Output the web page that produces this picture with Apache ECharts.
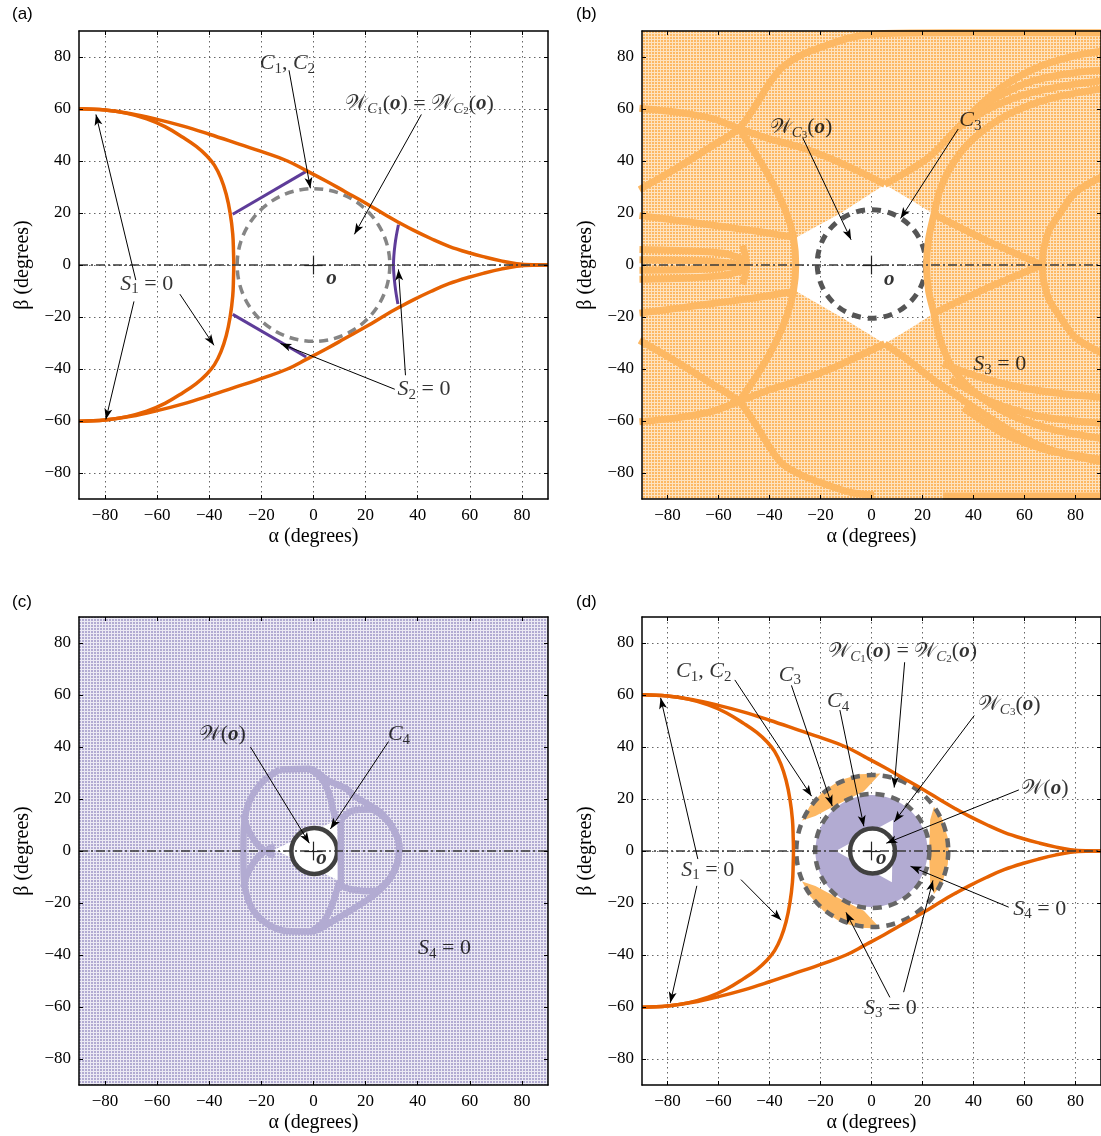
<!DOCTYPE html>
<html><head><meta charset="utf-8">
<script src="https://cdn.jsdelivr.net/npm/echarts@6/dist/echarts.min.js"></script>
<style>html,body{margin:0;padding:0;background:#fff}#c{width:1101px;height:1136px}</style>
</head><body><div id="c"></div>
<script>
// ---------------- DATA ----------------
const tickValues = [-80,-60,-40,-20,0,20,40,60,80];
const zeroLine = [[-90,0],[90,0]];
// S1 = 0 boundary (panels a, d)
const s1Upper = [[-90,60.1],[-80,59.6],[-70,58.2],[-60,56.0],[-50,53.4],[-40,50.3],[-30,47.0],[-19,43.3],[-10,40.0],[-2.6,36.2],[5,32.2],[12,28.3],[20.4,23.6],[28,19.0],[33,16.2],[38.3,13.4],[45,10.2],[52,7.2],[60,4.6],[66,3.0],[72,1.6],[78,0.5],[84,0.05],[90,0]];
const s1Lower = [[-90,-60.1],[-80,-59.6],[-70,-58.2],[-60,-56.0],[-50,-53.4],[-40,-50.3],[-30,-47.0],[-19,-43.3],[-10,-40.0],[-2.6,-36.2],[5,-32.2],[12,-28.3],[20.4,-23.6],[28,-19.0],[33,-16.2],[38.3,-13.4],[45,-10.2],[52,-7.2],[60,-4.6],[66,-3.0],[72,-1.6],[78,-0.5],[84,-0.05],[90,0]];
const s1Left = [[-90,60.1],[-80,59.6],[-72,58.4],[-64,56.2],[-57,53.2],[-50,49],[-45,45.6],[-41,42],[-38,38.3],[-35.5,33.3],[-33.5,27.2],[-32,20],[-31,12],[-30.7,5],[-30.6,0],[-30.7,-5],[-31,-12],[-32,-20],[-33.5,-27.2],[-35.5,-33.3],[-38,-38.3],[-41,-42],[-45,-45.6],[-50,-49],[-57,-53.2],[-64,-56.2],[-72,-58.4],[-80,-59.6],[-90,-60.1]];
// S2 = 0 (panel a)
const s2Upper = [[-31,19.5],[-2.8,36]];
const s2Lower = [[-31,-19],[-2.8,-35.4]];
const s2Right = [[32.6,15.5],[31.3,8],[30.7,0],[31.3,-8],[32.4,-15]];
// circles: [centre alpha, centre beta, radius]
const circleA = [[0,0,29.3]];
const circleB = [[0,0.4,21.3]];
const circlesD = [[0.3,0,29.8],[0.3,0,22.4]];
const ringC = [[0.3,0,8.8]];
const ringD = [[0.4,0,8.8]];
const diskD = [[0,0,22]];
// panel b: whole-plane sample set with white hole
const planeRect = [[-90,-90],[90,-90],[90,90],[-90,90]];
const hexHoleB = [[-29.7,10.5],[-12,20],[5.2,31],[15,25.3],[24.5,19.5],[22.4,10],[21.6,0],[22.4,-10],[24.5,-18.6],[15,-24.5],[5.2,-30.3],[-12,-20],[-29.7,-10]];
const bandsB = [
 [[-91,60.3],[-75,58.6],[-62,56.2],[-52,52.5],[-40,48.5],[-27,45],[-15,40.5],[-5,36],[5.2,31]],
 [[5.2,31],[15,36.5],[23.3,42.1],[33.6,52.5],[42,61],[52,69],[65,76],[80,80.5],[92,82.5]],
 [[-91,29],[-76,37.5],[-63,45.5],[-52,52.5],[-45,62],[-40,70],[-35,76],[-27,81],[-19,84],[-8,87.5],[5,89],[30,89.3],[60,89.3],[92,89.3]],
 [[-52,52.5],[-44,40.5],[-37.4,29],[-33,19],[-30.6,10.5],[-29.7,0],[-30.6,-10],[-33,-19],[-37.4,-29.4],[-44,-41],[-52,-52.5]],
 [[-91,-60.3],[-75,-58.6],[-62,-56.2],[-52,-52.5],[-40,-48],[-27,-44],[-15,-39.5],[-5,-35],[5.2,-30.3]],
 [[5.2,-30.3],[15,-37],[23.3,-43.5],[33,-50],[42,-56],[55,-64],[70,-71],[92,-76]],
 [[-91,-29],[-76,-37.5],[-63,-45.5],[-52,-52.5],[-45,-62],[-40,-70],[-35,-76.5],[-27,-81],[-19,-84],[-8,-87.5],[1,-88.5]],
 [[-29.7,10.5],[-45,13],[-60,15],[-75,17],[-91,19]],
 [[-29.7,-10],[-45,-12.5],[-60,-14.5],[-75,-16.5],[-91,-18.5]],
 [[-91,6],[-72,5.5],[-58,4.5],[-50,2]],
 [[-91,2],[-65,1.5],[-50,0]],
 [[-91,-2],[-65,-1.5],[-50,0]],
 [[-91,-5.5],[-72,-5],[-58,-4],[-50,-2]],
 [[-50.5,7.5],[-49,0],[-50.5,-7.5]],
 [[24.5,19.5],[45,9.5],[67,0]],
 [[24.5,-18.6],[45,-9],[67,0]],
 [[92,34.7],[80,28],[74,20],[69.8,13.6],[67.5,6],[67,0],[67.5,-6],[69.8,-13.6],[74,-20],[80,-28],[92,-34.7]],
 [[92,68],[70,64],[53,57.6],[40,48.6],[32.3,39.6],[27,29.2],[24.5,19.5],[22.4,10],[21.6,0],[22.4,-10],[24.5,-18.6],[27,-29],[32,-40],[40,-48.5],[53,-57],[70,-63],[92,-67]],
 [[33,52],[46,60],[60,65.5],[76,69],[92,71]],
 [[38,57],[50,65],[64,71],[80,74],[92,75]],
 [[28,-38],[42,-43],[58,-47],[75,-49.5],[92,-51]],
 [[31,-44],[48,-53],[65,-58],[80,-60],[92,-61]],
 [[36,-55],[52,-65],[68,-71],[82,-73.5],[92,-75]],
 [[28,-88.8],[60,-88.8],[92,-88.8]]
];
// panel c
const triHoleC = [[-15,0.5],[9,12],[10,-11.5]];
const bandsC = [
 [[-13,31.3],[-1.6,31.6],[5.8,27],[12.6,24],[15.3,21.4],[22,17.3],[26.1,14.6],[30.2,9.1],[32.9,2.3],[32.2,-4.5],[28.8,-11.3],[23.4,-16.8],[15.3,-22.2],[8.5,-26.3],[-0.9,-31],[-10.4,-30.8],[-17.2,-28.4],[-22.6,-23.6],[-25.3,-18.1],[-26.7,-11.3],[-26.9,0],[-26.7,9.1],[-25.3,17.3],[-22.6,22.8],[-18.5,27.6],[-13,31.3]],
 [[-1.6,31.6],[3,28],[6,22],[7.5,16],[8.5,12]],
 [[-27,14],[-25,8],[-21.5,2.5],[-18.5,0],[-15,-2]],
 [[-0.9,-31],[4,-27],[7,-21],[9,-15],[10,-11.5]],
 [[-27,-14],[-25,-8],[-21.5,-2.5],[-18.5,0],[-15,2]],
 [[10.5,12],[15,15.5],[22,16],[27,13],[31,8],[33,1],[32,-5],[29,-11],[23,-15.5],[16,-15],[10.5,-12.5],[10.5,12]]
];
// panel d
const patchesD = [
 [[-27.2,11.7],[-24.2,17.2],[-18.9,23],[-12.3,27.2],[-4.8,29.5],[3.5,29.8],[-3,23],[-10,19.5],[-16.5,16.3],[-22,13.5]],
 [[-27.2,-11.7],[-24.2,-17.2],[-18.9,-23],[-12.3,-27.2],[-4.8,-29.5],[3.5,-29.8],[-3,-23],[-10,-19.5],[-16.5,-16.3],[-22,-13.5]],
 [[24.5,17],[27.6,12.7],[29.9,5.2],[30.3,0],[29.9,-5.2],[27.6,-12.7],[24.5,-16.5],[23,-12],[22.6,0],[23,12]]
];
const triD = [[-14,0],[8.5,12],[8,-12]];

// ---------------- ANNOTATIONS ----------------
const labelsA = [{f:'C12',at:[-10,77.6]},{f:'Weq',at:[40.7,62]},{f:'S1',at:[-64,-7.2]},{f:'S2',at:[42.4,-47.8]},{f:'o',at:[6.9,-5.1]}];
const arrowsA = [[[-9.4,74.9],[-1.2,29.5]],[[41.4,57.9],[15.7,11.8]],[[-68.2,-5.8],[-83.5,57.9]],[[-68.9,-14],[-79.7,-59.4]],[[-51.3,-11.2],[-38.2,-30.9]],[[31.2,-47.8],[-12.7,-30.2]],[[35.3,-42.4],[32.6,-1.7]]];
const labelsB = [{f:'Wc3',at:[-27.6,52.9]},{f:'C3',at:[38.8,55.7]},{f:'S3',at:[50.3,-38.3]},{f:'o',at:[7,-5.6]}];
const arrowsB = [[[-26.9,48.8],[-8,9.7]],[[34,52.3],[11.4,17.9]]];
const labelsC = [{f:'W',at:[-35,44.9]},{f:'C4',at:[32.8,44.9]},{f:'S4',at:[50.3,-37.5]},{f:'o',at:[3.1,-3.1]}];
const arrowsC = [[[-24.2,40],[-1.6,3]],[[28.8,42.1],[6.5,8.5]]];
const labelsD = [{f:'C12',at:[-65.8,69.2]},{f:'C3',at:[-32,67.8]},{f:'C4',at:[-13.1,57.6]},{f:'Weq',at:[12.2,76.7]},{f:'Wc3',at:[54,56.2]},{f:'W',at:[68,24.1]},{f:'S4',at:[66,-22.2]},{f:'S1',at:[-64.2,-7.2]},{f:'S3',at:[7.4,-60.4]},{f:'o',at:[3.8,-3.1]}];
const arrowsD = [[[-53.6,65.8],[-23.5,21.1]],[[-31.4,63.7],[-15.4,17.3]],[[-12.4,54.2],[-3,9.5]],[[13,72.6],[8.9,24.4]],[[40.3,52.1],[8.9,11.2]],[[57.8,23.5],[5.8,3]],[[53.8,-21.6],[15.3,-5.9]],[[-68.1,-3.1],[-82.7,58.9]],[[-68.5,-13.4],[-78.9,-58.4]],[[-51.2,-11],[-35.4,-26.6]],[[7.2,-56.3],[-10,-23.6]],[[12.6,-54.3],[24.1,-11.3]]];

// ---------------- STYLE / BUILD ----------------
const ORANGE='#e66101', LORANGE='#fdb863', PURPLE='#5e3c99', LPURPLE='#b2abd2';
const SERIF='Liberation Serif';
const SCRIPT='DejaVu Serif';
const W='\u{1D4B2}';
const F = {
 C12:'{i|C}{s|1}{n|, }{i|C}{s|2}',
 Weq:'{w|'+W+'}{si|C}{ss|1}{n|(}{b|o}{n|) = }{w|'+W+'}{si|C}{ss|2}{n|(}{b|o}{n|)}',
 Wc3:'{w|'+W+'}{si|C}{ss|3}{n|(}{b|o}{n|)}',
 W:'{w|'+W+'}{n|(}{b|o}{n|)}',
 S1:'{i|S}{s|1}{n| = 0}',S2:'{i|S}{s|2}{n| = 0}',S3:'{i|S}{s|3}{n| = 0}',S4:'{i|S}{s|4}{n| = 0}',
 C3:'{i|C}{s|3}',C4:'{i|C}{s|4}',
 o:'{b|o}'
};
const RICH = {
 i:{fontFamily:SERIF,fontStyle:'italic',fontSize:22,lineHeight:26,color:'#000'},
 n:{fontFamily:SERIF,fontSize:22,lineHeight:26,color:'#000'},
 w:{fontFamily:SCRIPT,fontSize:21,lineHeight:26,color:'#000'},
 b:{fontFamily:SERIF,fontStyle:'italic',fontWeight:'bold',fontSize:21,lineHeight:26,color:'#000'},
 s:{fontFamily:SERIF,fontSize:15,lineHeight:14,verticalAlign:'bottom',color:'#000'},
 si:{fontFamily:SERIF,fontStyle:'italic',fontSize:15,lineHeight:16,verticalAlign:'bottom',color:'#000'},
 ss:{fontFamily:SERIF,fontSize:11,lineHeight:9,verticalAlign:'bottom',color:'#000'}
};
function tile(color,a){const c=document.createElement('canvas');c.width=3;c.height=3;const x=c.getContext('2d');x.fillStyle=color;x.fillRect(0,0,3,3);x.fillStyle='rgba(255,255,255,'+a+')';x.fillRect(0,0,3,1);x.fillRect(0,1,1,2);return c;}
const patB = {image:tile(LORANGE,0.6),repeat:'repeat'};
const patC = {image:tile(LPURPLE,0.75),repeat:'repeat'};
function withHole(outer,hole){return outer.concat([outer[0]],hole,[hole[0]],[outer[0]]);}

const fmt = v => (v<0?'\u2212':'')+Math.abs(v);
const GR = [[79,31],[642,31],[79,617],[642,617]];
const grid = GR.map(g=>({left:g[0],top:g[1],width:469,height:468,show:false}));
const xAxis=[], yAxis=[];
const axLine = {show:true,onZero:false,lineStyle:{color:'#000',width:1.5}};
const axTick = {show:true,inside:true,length:4,customValues:tickValues,lineStyle:{color:'#000',width:1}};
const tickLabel = {customValues:tickValues,formatter:fmt,fontFamily:SERIF,fontSize:17,color:'#000',margin:8,textStyle:{fontFamily:SERIF}};
const nameStyle = {fontFamily:SERIF,fontSize:20,color:'#000'};
for(let i=0;i<4;i++){
 xAxis.push({type:'value',gridIndex:i,min:-90,max:90,splitNumber:9,position:'bottom',z:10,axisLine:axLine,axisTick:axTick,
  axisLabel:tickLabel,splitLine:{show:false},
  name:'\u03b1 (degrees)',nameLocation:'middle',nameGap:28,nameTextStyle:nameStyle});
 yAxis.push({type:'value',gridIndex:i,min:-90,max:90,splitNumber:9,position:'left',z:10,axisLine:axLine,axisTick:axTick,
  axisLabel:tickLabel,splitLine:{show:false},
  name:'\u03b2 (degrees)',nameLocation:'middle',nameGap:46,nameTextStyle:nameStyle});
}
for(let i=0;i<4;i++){
 xAxis.push({type:'value',gridIndex:i,min:-90,max:90,splitNumber:9,position:'top',z:10,axisLine:axLine,axisTick:axTick,axisLabel:{show:false},splitLine:{show:false}});
 yAxis.push({type:'value',gridIndex:i,min:-90,max:90,splitNumber:9,position:'right',z:10,axisLine:axLine,axisTick:axTick,axisLabel:{show:false},splitLine:{show:false}});
}
const split = {show:true,lineStyle:{type:[1.5,3.5],color:'#666',width:1}};
for(let i=0;i<4;i++){
 xAxis.push({type:'value',gridIndex:i,min:-90,max:90,splitNumber:9,z:0,axisLine:{show:false},axisTick:{show:false,customValues:tickValues},axisLabel:{show:false,customValues:tickValues},splitLine:split});
 yAxis.push({type:'value',gridIndex:i,min:-90,max:90,splitNumber:9,z:0,axisLine:{show:false},axisTick:{show:false,customValues:tickValues},axisLabel:{show:false,customValues:tickValues},splitLine:split});
}

const series=[];
function curve(g,data,color,width,smooth,type){series.push({type:'line',xAxisIndex:g,yAxisIndex:g,data,symbol:'none',smooth:smooth||false,silent:true,animation:false,clip:true,lineStyle:{color,width,type:type||'solid'}});}
function poly(g,pts,fill){series.push({type:'custom',xAxisIndex:g,yAxisIndex:g,data:pts,silent:true,animation:false,clip:true,
 renderItem:(p,api)=>{if(p.dataIndex!==0)return null;return {type:'polygon',shape:{points:pts.map(q=>api.coord(q))},style:{fill}};}});}
function circles(g,data,style){series.push({type:'custom',xAxisIndex:g,yAxisIndex:g,data,silent:true,animation:false,
 renderItem:(p,api)=>{const c=api.coord([api.value(0),api.value(1)]);const r=api.size([api.value(2),0])[0];return {type:'circle',shape:{cx:c[0],cy:c[1],r},style:Object.assign({},style)};}});}
function origin(g){
 curve(g,zeroLine,'#3a3a3a',1.4,false,[9,3,2,3]);
 series.push({type:'scatter',xAxisIndex:g,yAxisIndex:g,data:[],silent:true,animation:false,markLine:{silent:true,animation:false,symbol:['none','none'],label:{show:false},lineStyle:{color:'#222',width:1.2,type:'solid'},
  data:[[{coord:[-3.5,0]},{coord:[3.5,0]}],[{coord:[0,-3.6]},{coord:[0,3.6]}]]}});
}
function annotate(g,labels,arrows){
 series.push({type:'scatter',xAxisIndex:g,yAxisIndex:g,data:[],silent:true,animation:false,z:19,markLine:{silent:true,animation:false,symbol:['none','arrow'],symbolSize:[6,11],label:{show:false},lineStyle:{color:'#000',width:1,type:'solid'},
  data:arrows.map(a=>[{coord:a[0]},{coord:a[1]}])}});
 series.push({type:'scatter',xAxisIndex:g,yAxisIndex:g,symbolSize:1,itemStyle:{color:'rgba(0,0,0,0)'},silent:true,animation:false,z:20,
  label:{show:true,position:'inside',rich:RICH},data:labels.map(l=>({value:l.at,label:{formatter:F[l.f]}}))});
}
// (a)
circles(0,circleA,{fill:'none',stroke:'#858585',lineWidth:3.5,lineDash:[9,6]});
curve(0,s2Upper,PURPLE,3);curve(0,s2Lower,PURPLE,3);curve(0,s2Right,PURPLE,3,0.4);
curve(0,s1Upper,ORANGE,3.5,0.4);curve(0,s1Lower,ORANGE,3.5,0.4);curve(0,s1Left,ORANGE,3.5,0.4);
origin(0);annotate(0,labelsA,arrowsA);
// (b)
poly(1,withHole(planeRect,hexHoleB),patB);
bandsB.forEach(b=>curve(1,b,LORANGE,7,0.3));
circles(1,circleB,{fill:'none',stroke:'#555',lineWidth:5,lineDash:[9,7]});
origin(1);annotate(1,labelsB,arrowsB);
// (c)
poly(2,withHole(planeRect,triHoleC),patC);
bandsC.forEach(b=>curve(2,b,LPURPLE,6.5,0.3));
circles(2,ringC,{fill:'#fff',stroke:'#404040',lineWidth:4.5});
origin(2);annotate(2,labelsC,arrowsC);
// (d)
patchesD.forEach(p=>poly(3,p,LORANGE));
circles(3,diskD,{fill:LPURPLE,stroke:'none'});
poly(3,triD,'#fff');
circles(3,circlesD,{fill:'none',stroke:'#666',lineWidth:4.5,lineDash:[9,7]});
curve(3,s1Upper,ORANGE,3.5,0.4);curve(3,s1Lower,ORANGE,3.5,0.4);curve(3,s1Left,ORANGE,3.5,0.4);
circles(3,ringD,{fill:'#fff',stroke:'#404040',lineWidth:4.5});
origin(3);annotate(3,labelsD,arrowsD);

const panelText = (t,x,y)=>({type:'text',left:x,top:y,style:{text:t,fontFamily:'Liberation Sans',fontSize:17,fill:'#000'}});
const chart = echarts.init(document.getElementById('c'),null,{renderer:'canvas'});
chart.setOption({animation:false,backgroundColor:'#fff',textStyle:{fontFamily:SERIF},grid,xAxis,yAxis,series,
 graphic:[panelText('(a)',12,6),panelText('(b)',576,6),panelText('(c)',12,594),panelText('(d)',576,594)]});
</script></body></html>
